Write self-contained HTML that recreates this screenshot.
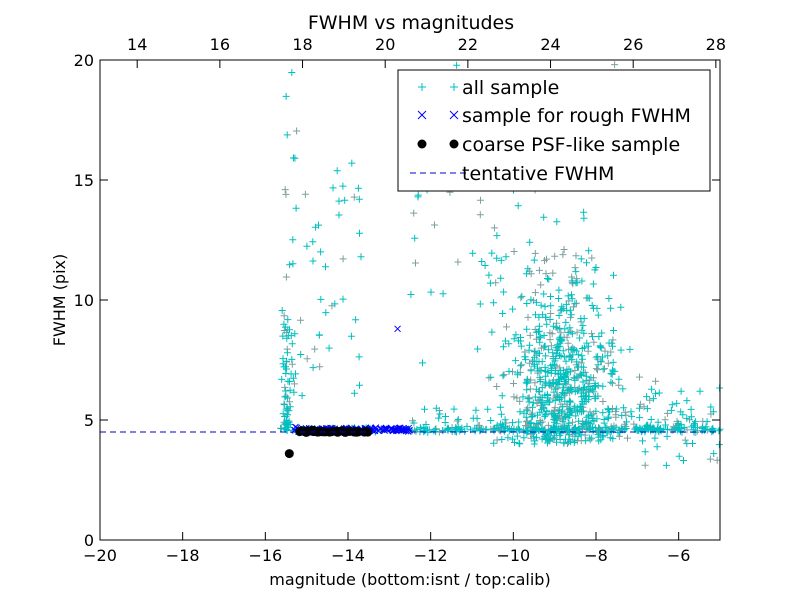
<!DOCTYPE html>
<html><head><meta charset="utf-8"><style>
body{margin:0;background:#fff}
svg text{font-family:"DejaVu Sans","Liberation Sans",sans-serif}
</style></head><body>
<svg id="s" width="800" height="600" xmlns="http://www.w3.org/2000/svg">
<rect width="800" height="600" fill="#fff"/>
<g id="pts"></g>
<line x1="100" y1="432" x2="720" y2="432" stroke="#0000cc" stroke-width="1" stroke-dasharray="6,4"/>
<rect x="100" y="60" width="620" height="480" fill="none" stroke="#000" stroke-width="1"/>
<g id="ticks" stroke="#000"></g>
<g id="labs" font-size="16" fill="#000"></g>
<text x="411" y="29" font-size="19" text-anchor="middle">FWHM vs magnitudes</text>
<text x="410" y="585" font-size="16" text-anchor="middle">magnitude (bottom:isnt / top:calib)</text>
<text transform="translate(65,300) rotate(-90)" font-size="16" text-anchor="middle">FWHM (pix)</text>
<rect x="398" y="70" width="312" height="121" fill="#fff" stroke="#000"/>
<g stroke="#00bfbf" stroke-width="1"><path d="M418 87h8M422 83v8M450 87h8M454 83v8"/></g>
<g stroke="#0000ff" stroke-width="1"><path d="M418 111l8 8M418 119l8-8M450 111l8 8M450 119l8-8"/></g>
<circle cx="422" cy="144" r="4.5"/><circle cx="454" cy="144" r="4.5"/>
<line x1="410" y1="173" x2="466" y2="173" stroke="#0000cc" stroke-dasharray="6,4"/>
<g font-size="19"><text x="462" y="94">all sample</text><text x="462" y="122">sample for rough FWHM</text><text x="462" y="151">coarse PSF-like sample</text><text x="462" y="180">tentative FWHM</text></g>
</svg>
<script>
var ns="http://www.w3.org/2000/svg";
function X(m){return 100+(m+20)*41.333}
function Y(f){return 540-f*24}
var seed=7;function r(){seed=(seed*16807)%2147483647;return seed/2147483647}
function g(){return (r()+r()+r()-1.5)/0.75}
var p="",q="",bl="",bx="";
function plus(m,f,grey){var x=X(m),y=Y(f);if(x<100||x>720||y<60||y>540)return;var s="M"+(x-3.5).toFixed(1)+" "+y.toFixed(1)+"h7M"+x.toFixed(1)+" "+(y-3.5).toFixed(1)+"v7";if(grey)q+=s;else p+=s}
var i;
for(i=0;i<60;i++)plus(-15.5+g()*0.08,4.6+Math.pow(r(),2)*5,r()<.2);
for(i=0;i<25;i++)plus(-15.4+g()*0.15,5+r()*15,r()<.2);
for(i=0;i<40;i++)plus(-15.2+r()*1.7,6+r()*10,r()<.3);
for(i=0;i<260;i++)plus(-15.5+r()*10.5,4.6+g()*0.08,r()<.15);
for(i=0;i<120;i++)plus(-12.5+r()*7.5,4.5+Math.abs(g())*0.8,r()<.3);
for(i=0;i<550;i++){var m=-8.7+g()*0.9,f=4+Math.abs(g())*4.5;plus(m,f,r()<.3)}
for(i=0;i<150;i++){var m=-9.2+g()*1.3,f=4+r()*8;plus(m,f,r()<.3)}
for(i=0;i<70;i++)plus(-12.5+r()*5,5+r()*15,r()<.3);
for(i=0;i<40;i++)plus(-7+r()*2,3+r()*4,r()<.3);
for(i=0;i<110;i++){var x=X(-15.3+r()*2.8),y=Y(4.6+g()*0.06);bx+="M"+(x-3)+" "+(y-3)+"l6 6M"+(x-3)+" "+(y+3)+"l6-6"}
(function(){var x=X(-12.8),y=Y(8.8);bx+="M"+(x-3)+" "+(y-3)+"l6 6M"+(x-3)+" "+(y+3)+"l6-6"})();
for(i=0;i<45;i++)bl+='<circle cx="'+X(-15.2+r()*1.7).toFixed(1)+'" cy="'+Y(4.52+g()*0.03).toFixed(1)+'" r="4.5"/>';
bl+='<circle cx="'+X(-15.42)+'" cy="'+Y(3.6)+'" r="4.5"/>';
document.getElementById("pts").innerHTML='<path d="'+q+'" stroke="#7f9f9f" fill="none"/><path d="'+p+'" stroke="#00bfbf" fill="none"/><path d="'+bx+'" stroke="#0000ff" fill="none"/>'+bl;
var t="",l="";
for(var v=-20;v<=-6;v+=2){var x=X(v);t+='<line x1="'+x+'" y1="540" x2="'+x+'" y2="532"/>';l+='<text x="'+x+'" y="561" text-anchor="middle">'+(v<0?"\u2212"+(-v):v)+'</text>'}
for(var v=14;v<=28;v+=2){var x=X(v-33.1);t+='<line x1="'+x+'" y1="60" x2="'+x+'" y2="68"/>';l+='<text x="'+x+'" y="50" text-anchor="middle">'+v+'</text>'}
for(var v=0;v<=20;v+=5){var y=Y(v);t+='<line x1="100" y1="'+y+'" x2="108" y2="'+y+'"/><line x1="712" y1="'+y+'" x2="720" y2="'+y+'"/>';l+='<text x="94" y="'+(y+6)+'" text-anchor="end">'+v+'</text>'}
document.getElementById("ticks").innerHTML=t;document.getElementById("labs").innerHTML=l;
</script>
</body></html>
